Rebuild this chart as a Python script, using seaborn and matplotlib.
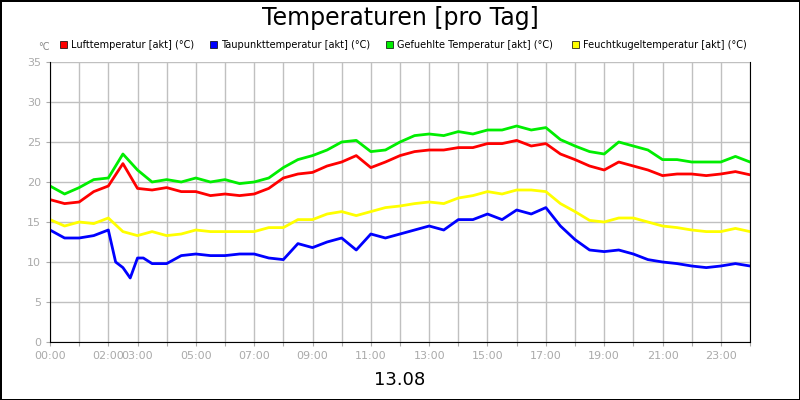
import numpy as np
import pandas as pd
import matplotlib
matplotlib.use("Agg")
import matplotlib.pyplot as plt
import seaborn as sns

hours = [i * 0.5 for i in range(49)]
luft = [17.8,17.3,17.5,18.8,19.5,22.3,19.2,19.0,19.3,18.8,18.8,18.3,18.5,18.3,18.5,19.2,20.5,21.0,21.2,22.0,22.5,23.3,21.8,22.5,23.3,23.8,24.0,24.0,24.3,24.3,24.8,24.8,25.2,24.5,24.8,23.5,22.8,22.0,21.5,22.5,22.0,21.5,20.8,21.0,21.0,20.8,21.0,21.3,20.9]
gefuehlt = [19.5,18.5,19.3,20.3,20.5,23.5,21.5,20.0,20.3,20.0,20.5,20.0,20.3,19.8,20.0,20.5,21.8,22.8,23.3,24.0,25.0,25.2,23.8,24.0,25.0,25.8,26.0,25.8,26.3,26.0,26.5,26.5,27.0,26.5,26.8,25.3,24.5,23.8,23.5,25.0,24.5,24.0,22.8,22.8,22.5,22.5,22.5,23.2,22.5]
feucht = [15.3,14.5,15.0,14.8,15.5,13.8,13.3,13.8,13.3,13.5,14.0,13.8,13.8,13.8,13.8,14.3,14.3,15.3,15.3,16.0,16.3,15.8,16.3,16.8,17.0,17.3,17.5,17.3,18.0,18.3,18.8,18.5,19.0,19.0,18.8,17.3,16.3,15.2,15.0,15.5,15.5,15.0,14.5,14.3,14.0,13.8,13.8,14.2,13.8]
tau_hours = [0,0.5,1,1.5,2,2.25,2.5,2.75,3.0,3.1,3.2,3.5,4,4.5,5,5.5,6,6.5,7,7.5,8,8.5,9,9.5,10,10.5,11,11.5,12,12.5,13,13.5,14,14.5,15,15.5,16,16.5,17,17.5,18,18.5,19,19.5,20,20.5,21,21.5,22,22.5,23,23.5,24]
taupunkt = [14.0,13.0,13.0,13.3,14.0,10.0,9.3,8.0,10.5,np.nan,10.5,9.8,9.8,10.8,11.0,10.8,10.8,11.0,11.0,10.5,10.3,12.3,11.8,12.5,13.0,11.5,13.5,13.0,13.5,14.0,14.5,14.0,15.3,15.3,16.0,15.3,16.5,16.0,16.8,14.5,12.8,11.5,11.3,11.5,11.0,10.3,10.0,9.8,9.5,9.3,9.5,9.8,9.5]
tick_hours = [0,2,3,5,7,9,11,13,15,17,19,21,23]
tick_labels = ["00:00","02:00","03:00","05:00","07:00","09:00","11:00","13:00","15:00","17:00","19:00","21:00","23:00"]
names = ["Lufttemperatur [akt] (°C)","Taupunkttemperatur [akt] (°C)","Gefuehlte Temperatur [akt] (°C)","Feuchtkugeltemperatur [akt] (°C)"]
colors = ["#ff0000","#0000ff","#00ee00","#ffff00"]

fig = plt.figure(figsize=(8,4), dpi=100)
fig.patch.set_edgecolor("black"); fig.patch.set_linewidth(2)
ax = fig.add_axes([50/800, 58/400, 700/800, 280/400])

sns.lineplot(x=hours, y=luft, ax=ax, color=colors[0], lw=2)
sns.lineplot(x=tau_hours, y=taupunkt, ax=ax, color=colors[1], lw=2)
sns.lineplot(x=hours, y=gefuehlt, ax=ax, color=colors[2], lw=2)
sns.lineplot(x=hours, y=feucht, ax=ax, color=colors[3], lw=2)

ax.set_xlim(0,24); ax.set_ylim(0,35)
ax.set_xticks(range(25), minor=False)
ax.set_xticklabels([tick_labels[tick_hours.index(h)] if h in tick_hours else "" for h in range(25)])
ax.set_yticks(range(0,36,5))
ax.grid(True, color="#c0c0c0", lw=1)
ax.set_axisbelow(True)
ax.tick_params(colors="#aaaaaa", labelsize=8, length=3)
for s in ["left","bottom","right"]:
    ax.spines[s].set_color("black")
ax.spines["top"].set_visible(False)

fig.text(0.5, 0.955, "Temperaturen [pro Tag]", ha="center", va="center", fontsize=17)
fig.text(0.5, 0.05, "13.08", ha="center", va="center", fontsize=13)
fig.text(38/800, 1-47/400, "°C", fontsize=7, color="#888888", va="center")
lx = [60, 210, 386, 572]
for x0, n, c in zip(lx, names, colors):
    fig.patches.append(plt.Rectangle((x0/800, 1-48/400), 7/800, 7/400, transform=fig.transFigure, facecolor=c, edgecolor="black", lw=0.5))
    fig.text((x0+11)/800, 1-44.5/400, n, fontsize=7, va="center")
fig.savefig("out.png")
